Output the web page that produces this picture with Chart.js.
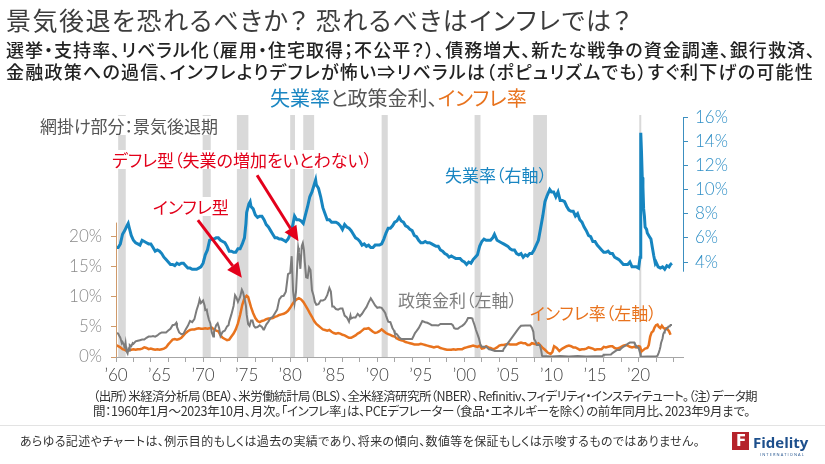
<!DOCTYPE html>
<html lang="ja">
<head>
<meta charset="utf-8">
<script src="https://cdn.jsdelivr.net/npm/chart.js@4.4.0/dist/chart.umd.min.js"></script>
<style>
	body {
		margin: 0;
		width: 825px;
		height: 464px;
		overflow: hidden;
		background: #fff;
		font-family: "Noto Sans CJK JP", sans-serif;
		font-feature-settings: "palt";
	}
	#chart {
		position: absolute;
		left: 0;
		top: 0;
	}
	.t {
		position: absolute;
		white-space: nowrap;
		line-height: 1;
	}
	.note {
		background: #fff;
		padding: 1px 3px;
	}
</style>
</head>
<body>
<canvas id="chart" width="825" height="464"></canvas>

<div class="t" id="title" style="left:6px;top:7px;font-size:25px;color:#3c3c3c">景気後退を恐れるべきか？ 恐れるべきはインフレでは？</div>
<div class="t" id="sub1" style="left:6px;top:40px;font-size:18px;font-weight:500;color:#222">選挙・支持率、リベラル化（雇用・住宅取得；不公平？）、債務増大、新たな戦争の資金調達、銀行救済、</div>
<div class="t" id="sub2" style="left:6px;top:62px;font-size:18px;font-weight:500;color:#222">金融政策への過信、インフレよりデフレが怖い⇒リベラルは（ポピュリズムでも）すぐ利下げの可能性</div>

<div class="t" id="chartTitle" style="left:270px;top:88px;font-size:20px;color:#555"><span style="color:#1a86c2">失業率</span>と政策金利、<span style="color:#e8731e">インフレ率</span></div>

<div class="t note" style="left:37px;top:116px;font-size:17px;color:#555">網掛け部分：景気後退期</div>
<div class="t note" style="left:109px;top:150px;font-size:17px;color:#e2001a">デフレ型（失業の増加をいとわない）</div>
<div class="t note" style="left:150px;top:197px;font-size:17px;color:#e2001a">インフレ型</div>
<div class="t" style="left:445px;top:166px;font-size:17px;color:#1a86c2">失業率（右軸）</div>
<div class="t" style="left:398px;top:291px;font-size:17px;color:#7f7f7f">政策金利（左軸）</div>
<div class="t" style="left:530px;top:304px;font-size:17px;color:#e8731e">インフレ率（左軸）</div>

<div class="t" id="src1" style="left:93px;top:390px;font-size:12.5px;color:#333">（出所）米経済分析局（BEA）、米労働統計局（BLS）、全米経済研究所（NBER）、Refinitiv、フィデリティ・インスティテュート。（注）データ期</div>
<div class="t" id="src2" style="left:93px;top:405px;font-size:12.5px;color:#333">間：1960年1月～2023年10月、月次。「インフレ率」は、PCEデフレーター（食品・エネルギーを除く）の前年同月比、2023年9月まで。</div>
<div style="position:absolute;left:0;top:425px;width:825px;height:1px;background:#e3e3e3"></div>
<div class="t" id="disc" style="left:20px;top:435px;font-size:12px;color:#333">あらゆる記述やチャートは、例示目的もしくは過去の実績であり、将来の傾向、数値等を保証もしくは示唆するものではありません。</div>

<div style="position:absolute;left:732px;top:432px;width:17px;height:18px;background:#b5232b"></div>
<div class="t" style="left:736px;top:434px;font-size:15px;font-weight:700;color:#fff;font-family:'DejaVu Sans'">F</div>
<div class="t" style="left:753px;top:435px;font-size:15px;font-weight:700;color:#1d4f8c;font-family:'Open Sans'">Fidelity</div>
<div class="t" style="left:760px;top:453px;font-size:4px;letter-spacing:1.1px;color:#1d4f8c;font-family:'Open Sans'">INTERNATIONAL</div>

<script>
// NBER recessions (decimal years)
const recessionStart = [1960.25, 1969.95, 1973.88, 1980.0, 1981.5, 1990.5, 2001.17, 2007.9, 2020.08];
const recessionEnd = [1961.12, 1970.88, 1975.2, 1980.55, 1982.75, 1991.2, 2001.85, 2009.48, 2020.3];

// unemployment rate, % (right axis)
const unemployment = [
	[1960.0, 5.2], [1960.25, 5.2], [1960.5, 5.5], [1960.75, 6.3], [1961.0, 6.6], [1961.25, 7.0], [1961.4, 7.2], [1961.5, 6.9],
	[1961.75, 6.2], [1962.0, 5.8], [1962.25, 5.6], [1962.5, 5.5], [1962.75, 5.4], [1963.0, 5.8], [1963.25, 5.7], [1963.5, 5.6],
	[1963.75, 5.5], [1964.0, 5.5], [1964.25, 5.2], [1964.5, 4.9], [1964.75, 5.0], [1965.0, 4.9], [1965.25, 4.7], [1965.5, 4.4],
	[1965.75, 4.2], [1966.0, 4.0], [1966.25, 3.8], [1966.5, 3.8], [1966.75, 3.7], [1967.0, 3.9], [1967.25, 3.8], [1967.5, 3.9],
	[1967.75, 3.9], [1968.0, 3.7], [1968.25, 3.5], [1968.5, 3.5], [1968.75, 3.4], [1969.0, 3.4], [1969.25, 3.4], [1969.5, 3.5],
	[1969.75, 3.6], [1970.0, 3.9], [1970.25, 4.6], [1970.5, 5.0], [1970.75, 5.8], [1971.0, 5.9], [1971.25, 5.9], [1971.5, 6.0],
	[1971.75, 6.0], [1972.0, 5.8], [1972.25, 5.7], [1972.5, 5.6], [1972.75, 5.3], [1973.0, 4.9], [1973.25, 4.9], [1973.5, 4.8],
	[1973.75, 4.8], [1974.0, 5.1], [1974.25, 5.1], [1974.5, 5.5], [1974.75, 6.0], [1974.92, 7.2], [1975.0, 8.1], [1975.25, 8.8],
	[1975.4, 9.0], [1975.5, 8.6], [1975.75, 8.4], [1976.0, 7.9], [1976.25, 7.7], [1976.5, 7.8], [1976.75, 7.8], [1977.0, 7.5],
	[1977.25, 7.1], [1977.5, 6.9], [1977.75, 6.6], [1978.0, 6.3], [1978.25, 6.0], [1978.5, 6.0], [1978.75, 5.9], [1979.0, 5.9],
	[1979.25, 5.8], [1979.5, 5.7], [1979.75, 5.9], [1980.0, 6.3], [1980.25, 6.9], [1980.5, 7.8], [1980.75, 7.5], [1981.0, 7.5],
	[1981.25, 7.4], [1981.5, 7.2], [1981.75, 7.9], [1982.0, 8.6], [1982.25, 9.4], [1982.5, 9.8], [1982.75, 10.4], [1982.92, 10.8],
	[1983.0, 10.4], [1983.25, 10.1], [1983.5, 9.4], [1983.75, 8.5], [1984.0, 8.0], [1984.25, 7.5], [1984.5, 7.5], [1984.75, 7.3],
	[1985.0, 7.3], [1985.25, 7.3], [1985.5, 7.2], [1985.75, 7.0], [1986.0, 6.7], [1986.25, 7.1], [1986.5, 6.9], [1986.75, 6.8],
	[1987.0, 6.6], [1987.25, 6.3], [1987.5, 6.0], [1987.75, 5.9], [1988.0, 5.7], [1988.25, 5.4], [1988.5, 5.5], [1988.75, 5.3],
	[1989.0, 5.4], [1989.25, 5.2], [1989.5, 5.2], [1989.75, 5.4], [1990.0, 5.4], [1990.25, 5.4], [1990.5, 5.5], [1990.75, 5.9],
	[1991.0, 6.4], [1991.25, 6.8], [1991.5, 6.8], [1991.75, 7.0], [1992.0, 7.3], [1992.25, 7.4], [1992.5, 7.7], [1992.75, 7.4],
	[1993.0, 7.3], [1993.25, 7.0], [1993.5, 6.9], [1993.75, 6.7], [1994.0, 6.6], [1994.25, 6.2], [1994.5, 6.1], [1994.75, 5.8],
	[1995.0, 5.6], [1995.25, 5.6], [1995.5, 5.7], [1995.75, 5.6], [1996.0, 5.6], [1996.25, 5.5], [1996.5, 5.4], [1996.75, 5.3],
	[1997.0, 5.3], [1997.25, 5.0], [1997.5, 4.9], [1997.75, 4.7], [1998.0, 4.6], [1998.25, 4.4], [1998.5, 4.5], [1998.75, 4.4],
	[1999.0, 4.3], [1999.25, 4.3], [1999.5, 4.3], [1999.75, 4.1], [2000.0, 4.0], [2000.25, 3.8], [2000.5, 4.0], [2000.75, 3.9],
	[2001.0, 4.2], [2001.25, 4.4], [2001.5, 4.6], [2001.75, 5.3], [2002.0, 5.7], [2002.25, 5.9], [2002.5, 5.8], [2002.75, 5.8],
	[2003.0, 5.8], [2003.25, 6.0], [2003.45, 6.3], [2003.75, 5.8], [2004.0, 5.7], [2004.25, 5.6], [2004.5, 5.5], [2004.75, 5.4],
	[2005.0, 5.3], [2005.25, 5.1], [2005.5, 5.0], [2005.75, 5.0], [2006.0, 4.7], [2006.25, 4.6], [2006.5, 4.7], [2006.75, 4.4],
	[2007.0, 4.6], [2007.25, 4.5], [2007.5, 4.7], [2007.75, 4.7], [2008.0, 5.0], [2008.25, 5.4], [2008.5, 5.8], [2008.75, 6.8],
	[2009.0, 7.8], [2009.25, 9.0], [2009.5, 9.5], [2009.8, 10.0], [2010.0, 9.8], [2010.25, 9.8], [2010.5, 9.4], [2010.75, 9.8],
	[2011.0, 9.1], [2011.25, 9.1], [2011.5, 9.0], [2011.75, 8.6], [2012.0, 8.3], [2012.25, 8.2], [2012.5, 8.2], [2012.75, 7.8],
	[2013.0, 8.0], [2013.25, 7.5], [2013.5, 7.3], [2013.75, 6.9], [2014.0, 6.6], [2014.25, 6.2], [2014.5, 6.1], [2014.75, 5.7],
	[2015.0, 5.7], [2015.25, 5.4], [2015.5, 5.2], [2015.75, 5.0], [2016.0, 4.8], [2016.25, 4.8], [2016.5, 4.9], [2016.75, 4.7],
	[2017.0, 4.7], [2017.25, 4.4], [2017.5, 4.3], [2017.75, 4.2], [2018.0, 4.0], [2018.25, 3.8], [2018.5, 3.8], [2018.75, 3.8],
	[2019.0, 4.0], [2019.25, 3.6], [2019.5, 3.6], [2019.75, 3.6], [2020.0, 3.5], [2020.17, 4.4], [2020.25, 14.7], [2020.33, 13.2],
	[2020.42, 11.0], [2020.5, 10.2], [2020.58, 8.4], [2020.67, 7.8], [2020.75, 6.9], [2020.92, 6.7], [2021.0, 6.4], [2021.25, 6.1],
	[2021.42, 5.9], [2021.58, 5.2], [2021.75, 4.5], [2021.92, 3.9], [2022.0, 4.0], [2022.25, 3.6], [2022.5, 3.5], [2022.75, 3.6],
	[2023.0, 3.4], [2023.25, 3.7], [2023.5, 3.6], [2023.67, 3.8], [2023.83, 3.9]
];

// policy rate, % (left axis)
const policyRate = [
	[1960.0, 4.0], [1960.25, 3.9], [1960.42, 3.4], [1960.5, 3.2], [1960.67, 2.3], [1960.75, 2.5], [1960.92, 2.0], [1961.0, 1.4],
	[1961.1, 2.3], [1961.2, 1.0], [1961.33, 0.6], [1961.42, 1.3], [1961.5, 1.1], [1961.58, 2.0], [1961.75, 1.8], [1961.92, 2.3],
	[1962.0, 2.2], [1962.25, 2.6], [1962.5, 2.7], [1962.75, 2.8], [1963.0, 2.9], [1963.25, 2.9], [1963.5, 3.2], [1963.75, 3.4],
	[1964.0, 3.4], [1964.25, 3.5], [1964.5, 3.4], [1964.75, 3.6], [1965.0, 3.9], [1965.25, 4.1], [1965.5, 4.1], [1965.75, 4.1],
	[1966.0, 4.4], [1966.25, 4.7], [1966.5, 5.3], [1966.75, 5.4], [1966.92, 5.7], [1967.0, 5.0], [1967.25, 4.1], [1967.5, 3.8],
	[1967.75, 3.9], [1968.0, 4.6], [1968.25, 5.2], [1968.5, 6.0], [1968.75, 5.8], [1969.0, 6.3], [1969.25, 7.8], [1969.5, 8.9],
	[1969.6, 9.6], [1969.75, 9.0], [1970.0, 9.4], [1970.17, 8.6], [1970.25, 7.8], [1970.42, 7.9], [1970.5, 7.2], [1970.67, 6.2],
	[1970.83, 5.6], [1971.0, 4.1], [1971.17, 3.4], [1971.25, 4.2], [1971.5, 5.3], [1971.67, 5.6], [1971.83, 4.9], [1972.0, 3.5],
	[1972.25, 4.2], [1972.5, 4.4], [1972.75, 5.1], [1972.92, 5.3], [1973.0, 5.9], [1973.25, 7.1], [1973.5, 8.5], [1973.67, 10.3],
	[1973.83, 9.9], [1974.0, 9.2], [1974.25, 10.0], [1974.45, 11.2], [1974.58, 10.8], [1974.75, 9.8], [1974.92, 8.5], [1975.0, 7.1],
	[1975.17, 5.5], [1975.33, 5.2], [1975.5, 6.1], [1975.67, 6.1], [1975.83, 5.2], [1976.0, 4.9], [1976.25, 5.0], [1976.5, 5.3],
	[1976.75, 5.0], [1976.92, 4.6], [1977.0, 4.6], [1977.25, 5.4], [1977.5, 5.9], [1977.75, 6.5], [1978.0, 6.7], [1978.25, 7.3],
	[1978.5, 7.9], [1978.75, 9.6], [1979.0, 10.1], [1979.25, 10.2], [1979.5, 10.9], [1979.75, 13.8], [1980.0, 14.0], [1980.17, 16.8],
	[1980.33, 11.0], [1980.5, 9.0], [1980.67, 10.9], [1980.83, 15.9], [1980.92, 18.2], [1981.0, 17.5], [1981.17, 14.7], [1981.33, 18.5],
	[1981.45, 19.0], [1981.58, 17.8], [1981.67, 15.9], [1981.83, 13.3], [1982.0, 13.2], [1982.17, 14.9], [1982.33, 14.5], [1982.5, 11.1],
	[1982.67, 10.3], [1982.83, 9.2], [1983.0, 8.7], [1983.25, 8.8], [1983.5, 9.4], [1983.75, 9.4], [1984.0, 9.6], [1984.25, 10.3],
	[1984.5, 11.5], [1984.67, 10.9], [1984.83, 8.4], [1985.0, 8.4], [1985.25, 8.0], [1985.5, 7.9], [1985.75, 8.1], [1986.0, 8.1],
	[1986.25, 6.9], [1986.5, 6.6], [1986.75, 5.9], [1986.92, 6.9], [1987.0, 6.4], [1987.25, 6.6], [1987.5, 6.6], [1987.75, 7.2],
	[1988.0, 6.8], [1988.25, 7.2], [1988.5, 7.8], [1988.75, 8.3], [1989.0, 9.1], [1989.25, 9.8], [1989.5, 9.2], [1989.75, 8.6],
	[1990.0, 8.2], [1990.25, 8.3], [1990.5, 8.2], [1990.75, 7.7], [1990.92, 7.3], [1991.0, 6.9], [1991.25, 5.9], [1991.5, 5.8],
	[1991.75, 4.8], [1991.92, 4.4], [1992.0, 4.0], [1992.25, 3.8], [1992.5, 3.3], [1992.75, 3.0], [1993.0, 3.0], [1993.5, 3.0],
	[1994.0, 3.0], [1994.17, 3.5], [1994.33, 4.0], [1994.5, 4.3], [1994.75, 4.8], [1995.0, 5.5], [1995.17, 6.0], [1995.5, 5.8],
	[1995.75, 5.7], [1996.0, 5.5], [1996.25, 5.3], [1996.5, 5.3], [1996.75, 5.3], [1997.0, 5.25], [1997.25, 5.5], [1997.5, 5.5],
	[1997.75, 5.5], [1998.0, 5.5], [1998.5, 5.5], [1998.67, 5.3], [1998.83, 4.8], [1999.0, 4.7], [1999.25, 4.7], [1999.5, 5.0],
	[1999.75, 5.2], [2000.0, 5.5], [2000.25, 6.0], [2000.42, 6.5], [2000.75, 6.5], [2000.92, 6.4], [2001.0, 6.0], [2001.17, 5.3],
	[2001.33, 4.5], [2001.5, 3.8], [2001.67, 3.1], [2001.83, 2.1], [2002.0, 1.7], [2002.5, 1.7], [2002.83, 1.3], [2003.0, 1.25],
	[2003.5, 1.0], [2004.0, 1.0], [2004.42, 1.0], [2004.5, 1.3], [2004.75, 1.8], [2005.0, 2.3], [2005.25, 2.8], [2005.5, 3.3],
	[2005.75, 3.8], [2006.0, 4.3], [2006.25, 4.8], [2006.5, 5.2], [2007.0, 5.25], [2007.58, 5.25], [2007.75, 4.9], [2007.92, 4.2],
	[2008.0, 3.0], [2008.17, 2.6], [2008.33, 2.0], [2008.67, 2.0], [2008.83, 1.0], [2008.92, 0.2], [2009.0, 0.15], [2010.0, 0.1],
	[2011.0, 0.15], [2012.0, 0.1], [2013.0, 0.15], [2014.0, 0.1], [2015.0, 0.12], [2015.83, 0.12], [2015.92, 0.24], [2016.0, 0.38],
	[2016.83, 0.41], [2016.92, 0.54], [2017.0, 0.65], [2017.25, 0.9], [2017.5, 1.15], [2017.83, 1.16], [2017.92, 1.3], [2018.0, 1.41],
	[2018.25, 1.7], [2018.5, 1.91], [2018.75, 2.19], [2019.0, 2.4], [2019.5, 2.4], [2019.58, 2.13], [2019.75, 1.83], [2019.92, 1.55],
	[2020.0, 1.55], [2020.17, 0.65], [2020.25, 0.05], [2021.0, 0.08], [2022.0, 0.08], [2022.17, 0.2], [2022.33, 0.77], [2022.42, 1.21],
	[2022.5, 1.68], [2022.58, 2.33], [2022.75, 3.08], [2022.83, 3.78], [2022.92, 4.1], [2023.0, 4.33], [2023.17, 4.65], [2023.33, 4.83],
	[2023.42, 5.06], [2023.58, 5.12], [2023.67, 5.33], [2023.83, 5.33]
];

// core PCE inflation, % y/y (left axis)
const inflation = [
	[1960.0, 2.0], [1960.25, 1.8], [1960.5, 1.6], [1960.75, 1.3], [1961.0, 1.2], [1961.25, 1.0], [1961.5, 1.1], [1961.75, 1.2],
	[1962.0, 1.3], [1962.25, 1.2], [1962.5, 1.3], [1962.75, 1.3], [1963.0, 1.4], [1963.25, 1.6], [1963.5, 1.5], [1963.75, 1.3],
	[1964.0, 1.4], [1964.25, 1.3], [1964.5, 1.2], [1964.75, 1.3], [1965.0, 1.2], [1965.25, 1.3], [1965.5, 1.4], [1965.75, 1.6],
	[1966.0, 2.1], [1966.25, 2.5], [1966.5, 2.9], [1966.75, 3.0], [1967.0, 2.9], [1967.25, 3.0], [1967.5, 3.2], [1967.75, 3.6],
	[1968.0, 4.0], [1968.25, 4.3], [1968.5, 4.5], [1968.75, 4.6], [1969.0, 4.6], [1969.25, 4.7], [1969.5, 4.8], [1969.75, 4.7],
	[1970.0, 4.7], [1970.25, 4.8], [1970.5, 4.7], [1970.75, 4.8], [1971.0, 4.9], [1971.25, 4.6], [1971.5, 4.4], [1971.75, 4.3],
	[1972.0, 3.6], [1972.25, 3.2], [1972.5, 3.0], [1972.75, 2.8], [1973.0, 2.9], [1973.25, 3.4], [1973.5, 3.9], [1973.75, 4.6],
	[1974.0, 5.6], [1974.25, 7.0], [1974.5, 8.7], [1974.75, 9.8], [1975.0, 10.2], [1975.17, 10.0], [1975.33, 9.2], [1975.5, 8.3],
	[1975.75, 7.3], [1976.0, 6.5], [1976.25, 6.0], [1976.5, 5.8], [1976.75, 6.0], [1977.0, 6.1], [1977.25, 6.3], [1977.5, 6.4],
	[1977.75, 6.4], [1978.0, 6.5], [1978.25, 6.7], [1978.5, 6.8], [1978.75, 7.0], [1979.0, 7.1], [1979.25, 7.2], [1979.5, 7.4],
	[1979.75, 7.7], [1980.0, 8.2], [1980.25, 8.8], [1980.5, 9.3], [1980.75, 9.6], [1981.0, 9.8], [1981.25, 9.6], [1981.5, 9.2],
	[1981.75, 8.6], [1982.0, 8.0], [1982.25, 7.3], [1982.5, 6.7], [1982.75, 6.0], [1983.0, 5.5], [1983.25, 5.2], [1983.5, 4.9],
	[1983.75, 4.6], [1984.0, 4.5], [1984.25, 4.4], [1984.5, 4.5], [1984.75, 4.2], [1985.0, 4.0], [1985.25, 3.9], [1985.5, 4.0],
	[1985.75, 3.9], [1986.0, 3.7], [1986.25, 3.6], [1986.5, 3.4], [1986.75, 3.2], [1987.0, 3.2], [1987.25, 3.4], [1987.5, 3.6],
	[1987.75, 3.9], [1988.0, 4.1], [1988.25, 4.4], [1988.5, 4.7], [1988.75, 4.7], [1989.0, 4.8], [1989.25, 4.5], [1989.5, 4.2],
	[1989.75, 4.0], [1990.0, 4.1], [1990.25, 4.3], [1990.5, 4.6], [1990.75, 4.3], [1991.0, 4.0], [1991.25, 3.8], [1991.5, 3.7],
	[1991.75, 3.5], [1992.0, 3.4], [1992.25, 3.1], [1992.5, 2.9], [1992.75, 2.8], [1993.0, 2.7], [1993.25, 2.5], [1993.5, 2.4],
	[1993.75, 2.3], [1994.0, 2.2], [1994.25, 2.1], [1994.5, 2.1], [1994.75, 2.1], [1995.0, 2.2], [1995.25, 2.1], [1995.5, 2.0],
	[1995.75, 1.9], [1996.0, 1.8], [1996.25, 1.7], [1996.5, 1.6], [1996.75, 1.7], [1997.0, 1.7], [1997.25, 1.5], [1997.5, 1.4],
	[1997.75, 1.3], [1998.0, 1.2], [1998.25, 1.2], [1998.5, 1.2], [1998.75, 1.3], [1999.0, 1.2], [1999.25, 1.3], [1999.5, 1.3],
	[1999.75, 1.3], [2000.0, 1.5], [2000.25, 1.6], [2000.5, 1.7], [2000.75, 1.8], [2001.0, 1.9], [2001.25, 1.8], [2001.5, 1.7],
	[2001.75, 1.9], [2002.0, 1.4], [2002.25, 1.5], [2002.5, 1.8], [2002.75, 1.6], [2003.0, 1.5], [2003.25, 1.3], [2003.5, 1.4],
	[2003.75, 1.6], [2004.0, 1.9], [2004.25, 2.0], [2004.5, 2.0], [2004.75, 2.1], [2005.0, 2.2], [2005.25, 2.1], [2005.5, 2.1],
	[2005.75, 2.1], [2006.0, 2.1], [2006.25, 2.3], [2006.5, 2.4], [2006.75, 2.3], [2007.0, 2.3], [2007.25, 2.0], [2007.5, 2.0],
	[2007.75, 2.3], [2008.0, 2.2], [2008.25, 2.1], [2008.5, 2.3], [2008.75, 1.9], [2009.0, 1.5], [2009.25, 1.2], [2009.6, 0.7],
	[2009.9, 0.5], [2010.1, 0.8], [2010.3, 1.8], [2010.6, 1.5], [2010.9, 1.0], [2011.25, 1.4], [2011.5, 1.6], [2011.75, 1.8],
	[2012.0, 1.9], [2012.25, 1.8], [2012.5, 1.6], [2012.75, 1.6], [2013.0, 1.4], [2013.25, 1.2], [2013.5, 1.3], [2013.75, 1.3],
	[2014.0, 1.4], [2014.25, 1.6], [2014.5, 1.5], [2014.75, 1.4], [2015.0, 1.2], [2015.25, 1.3], [2015.5, 1.3], [2015.75, 1.3],
	[2016.0, 1.7], [2016.25, 1.6], [2016.5, 1.7], [2016.75, 1.8], [2017.0, 1.8], [2017.25, 1.5], [2017.5, 1.4], [2017.75, 1.5],
	[2018.0, 1.7], [2018.25, 1.9], [2018.5, 2.0], [2018.75, 1.9], [2019.0, 1.7], [2019.25, 1.6], [2019.5, 1.7], [2019.75, 1.6],
	[2020.0, 1.8], [2020.17, 1.7], [2020.33, 0.9], [2020.5, 1.1], [2020.75, 1.4], [2021.0, 1.5], [2021.17, 2.0], [2021.33, 3.4],
	[2021.5, 4.1], [2021.67, 4.3], [2021.83, 4.9], [2022.0, 5.3], [2022.17, 5.4], [2022.33, 5.0], [2022.5, 4.8], [2022.67, 5.2],
	[2022.83, 4.9], [2023.0, 4.7], [2023.17, 4.8], [2023.33, 4.6], [2023.5, 4.3], [2023.67, 3.7]
];

// axis ticks
const leftTicks = [0, 5, 10, 15, 20];
const rightTicks = [4, 6, 8, 10, 12, 14, 16];
const xLabelYears = [1960, 1965, 1970, 1975, 1980, 1985, 1990, 1995, 2000, 2005, 2010, 2015, 2020];
const xLabels = ["’60", "’65", "’70", "’75", "’80", "’85", "’90", "’95", "’00", "’05", "’10", "’15", "’20"];

// arrows: [fromYear, fromValue, toYear, toValue] on left axis
const arrows = [
	[1969.4, 22.8, 1974.45, 13.2],
	[1976.2, 30.3, 1980.95, 19.3],
];

const blue = "#1685c0";
const orange = "#e8731e";
const grey = "#7c7c7c";

function toPoints(pairs) {
	return pairs.map(([x, y]) => ({ x: x, y: y }));
}

// stretch a text line to a given width
function fit(id, width) {
	const el = document.getElementById(id);
	const n = el.textContent.length;
	const w = el.getBoundingClientRect().width;
	el.style.letterSpacing = (width - w) / n + "px";
}

const overlay = {
	id: "overlay",
	beforeDatasetsDraw(chart) {
		const { ctx, chartArea, scales } = chart;
		ctx.save();
		ctx.fillStyle = "#d9d9d9";
		recessionStart.forEach((s, i) => {
			const x1 = scales.x.getPixelForValue(s);
			const x2 = scales.x.getPixelForValue(recessionEnd[i]);
			ctx.fillRect(x1, chartArea.top, Math.max(x2 - x1, 2), chartArea.bottom - chartArea.top);
		});
		ctx.restore();
	},
	afterDraw(chart) {
		const { ctx, chartArea, scales } = chart;
		ctx.save();
		// left axis line
		ctx.strokeStyle = "#cf9a6a";
		ctx.lineWidth = 1;
		ctx.beginPath();
		ctx.moveTo(chartArea.left + 0.5, scales.yL.getPixelForValue(0));
		ctx.lineTo(chartArea.left + 0.5, scales.yL.getPixelForValue(22.4));
		ctx.stroke();
		// right axis line
		ctx.strokeStyle = "#3c8fc0";
		ctx.beginPath();
		ctx.moveTo(chartArea.right + 0.5, scales.yR.getPixelForValue(16));
		ctx.lineTo(chartArea.right + 0.5, scales.yR.getPixelForValue(3.2));
		ctx.stroke();
		// arrows
		ctx.strokeStyle = "#e3001b";
		ctx.fillStyle = "#e3001b";
		ctx.lineWidth = 3;
		arrows.forEach(([x0, y0, x1, y1]) => {
			const ax = scales.x.getPixelForValue(x0);
			const ay = scales.yL.getPixelForValue(y0);
			const bx = scales.x.getPixelForValue(x1);
			const by = scales.yL.getPixelForValue(y1);
			const ang = Math.atan2(by - ay, bx - ax);
			const head = 15;
			const half = 7;
			const hx = bx - head * Math.cos(ang);
			const hy = by - head * Math.sin(ang);
			ctx.beginPath();
			ctx.moveTo(ax, ay);
			ctx.lineTo(hx, hy);
			ctx.stroke();
			ctx.beginPath();
			ctx.moveTo(bx, by);
			ctx.lineTo(hx + half * Math.sin(ang), hy - half * Math.cos(ang));
			ctx.lineTo(hx - half * Math.sin(ang), hy + half * Math.cos(ang));
			ctx.closePath();
			ctx.fill();
		});
		ctx.restore();
	},
};

fit("title", 626);
fit("sub1", 810);
fit("sub2", 808);
fit("src1", 664);
fit("src2", 657);
fit("disc", 680);

const tickFont = { family: "Lato, 'Noto Sans', sans-serif", size: 17, weight: "300" };

new Chart(document.getElementById("chart"), {
	type: "line",
	data: {
		datasets: [
			{
				label: "失業率",
				data: toPoints(unemployment),
				yAxisID: "yR",
				borderColor: blue,
				borderWidth: 3,
				pointRadius: 0,
			},
			{
				label: "政策金利",
				data: toPoints(policyRate),
				yAxisID: "yL",
				borderColor: grey,
				borderWidth: 2,
				pointRadius: 0,
			},
			{
				label: "インフレ率",
				data: toPoints(inflation),
				yAxisID: "yL",
				borderColor: orange,
				borderWidth: 2.5,
				pointRadius: 0,
			},
		],
	},
	options: {
		responsive: false,
		animation: false,
		devicePixelRatio: 1,
		layout: {
			padding: { top: 115, left: 0, right: 0, bottom: 0 },
		},
		plugins: {
			legend: { display: false },
			tooltip: { enabled: false },
		},
		scales: {
			x: {
				type: "linear",
				min: 1960,
				max: 2025.1,
				afterFit: (s) => {
					s.height = 107;
				},
				afterBuildTicks: (s) => {
					const t = [];
					for (let y = 1960; y <= 2024; y++) t.push({ value: y });
					s.ticks = t;
				},
				border: { display: true, color: "#a6a6a6" },
				grid: {
					drawOnChartArea: false,
					drawTicks: true,
					tickLength: 5,
					color: (c) => (c.tick && c.tick.value % 2 === 0 ? "#a6a6a6" : "rgba(0,0,0,0)"),
				},
				ticks: {
					autoSkip: false,
					maxRotation: 0,
					padding: 3,
					color: "#404040",
					font: tickFont,
					callback: (v) => {
						const i = xLabelYears.indexOf(v);
						return i >= 0 ? xLabels[i] : "";
					},
				},
			},
			yL: {
				position: "left",
				min: 0,
				max: 40.33,
				afterFit: (s) => {
					s.width = 116;
				},
				afterBuildTicks: (s) => {
					s.ticks = leftTicks.map((v) => ({ value: v }));
				},
				border: { display: false },
				grid: {
					drawOnChartArea: false,
					drawTicks: true,
					tickLength: 5,
					color: "#cf9a6a",
				},
				ticks: {
					padding: 9,
					color: "#8a8a8a",
					font: tickFont,
					callback: (v) => v + "%",
				},
			},
			yR: {
				position: "right",
				min: -3.86,
				max: 16.17,
				afterFit: (s) => {
					s.width = 142;
				},
				afterBuildTicks: (s) => {
					s.ticks = rightTicks.map((v) => ({ value: v }));
				},
				border: { display: false },
				grid: {
					drawOnChartArea: false,
					drawTicks: true,
					tickLength: 5,
					color: "#3c8fc0",
				},
				ticks: {
					padding: 7,
					color: "#2f8fc6",
					font: tickFont,
					callback: (v) => v + "%",
				},
			},
		},
	},
	plugins: [overlay],
});
</script>
</body>
</html>
